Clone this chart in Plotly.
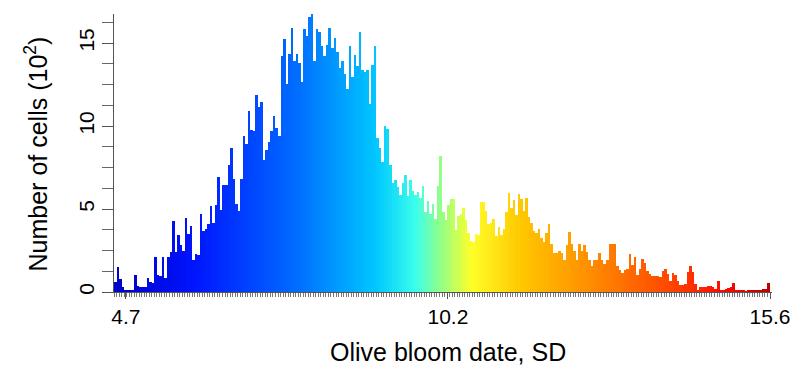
import numpy as np
import plotly.graph_objects as go

# Histogram counts (in units of 10^2 cells), read left to right
counts = [
    0.60, 1.51, 0.76, 0.28, 0.14, 0.08, 0.08, 0.08, 1.00, 0.38, 0.28, 0.32, 0.32, 0.84, 0.58, 0.54, 2.11, 1.05,
    0.94, 2.08, 0.84, 2.08, 2.41, 4.30, 2.41, 3.41, 2.81, 2.45, 4.46, 3.49, 3.95, 1.94, 2.29, 2.25, 4.72, 3.69,
    3.79, 4.11, 5.18, 4.14, 5.22,
    6.92, 4.96, 6.46, 6.43, 7.67, 8.67, 6.83, 5.31, 4.86, 6.83, 9.42, 8.93, 10.91, 9.77, 9.72, 11.84, 11.12,
    11.45, 7.97, 8.53, 9.03,
    9.72, 10.62, 9.87, 9.42, 14.23, 15.26, 12.55, 14.35, 15.90, 13.89, 14.33, 13.79, 12.63, 15.85, 15.40, 16.56,
    16.74, 13.89, 15.85, 15.64, 14.80, 14.23,
    14.89, 15.90, 14.69, 15.29, 14.45, 13.49, 13.93, 13.14, 12.24, 14.80, 12.98, 14.26, 13.59, 15.66, 13.39,
    13.23, 13.39, 11.32, 13.69, 14.80,
    9.28, 8.67, 7.83, 10.03, 9.83, 7.67, 6.57, 6.76, 6.30, 5.86, 6.57, 7.02, 5.76, 6.73, 6.06, 5.86, 6.00, 5.66,
    6.36, 4.80, 5.50, 4.72, 5.31,
    4.40, 6.36, 8.21, 4.82, 4.32, 5.22, 5.62, 5.61, 3.74, 4.56, 4.72, 5.05, 4.35, 3.55, 3.09, 2.99, 3.49, 3.43,
    5.45, 5.42, 4.86,
    4.09, 4.16, 4.40, 3.35, 3.91, 3.45, 3.81, 4.82, 5.94, 5.05, 5.56, 4.61, 5.90, 5.62, 4.86, 5.66, 4.49, 4.16,
    3.69, 3.55, 3.81, 3.25,
    3.01, 3.55, 4.11, 2.89, 2.35, 2.35, 2.45, 2.35, 1.91, 2.85, 3.61, 2.89, 2.48, 1.94, 2.89, 2.45, 2.85, 2.41,
    1.94, 1.54, 1.94,
    1.94, 2.35, 1.94, 1.68, 1.94, 2.91, 2.91, 2.91, 1.59, 1.31, 1.14, 1.35, 1.38, 2.31, 1.61, 2.08, 1.00, 1.38,
    2.01, 1.75, 1.24, 1.08,
    0.98, 0.94, 0.94, 0.91, 1.24, 1.38, 1.08, 0.68, 1.14, 1.00, 0.68, 0.44, 0.44, 0.49, 1.19, 1.59, 1.20, 0.49,
    0.14, 0.28, 0.30, 0.28, 0.38,
    0.35, 0.28, 0.21, 0.68, 0.14, 0.08, 0.18, 0.24, 0.30, 0.54, 0.10, 0.08, 0.14, 0.08, 0.04, 0.08, 0.10, 0.14,
    0.08, 0.10, 0.12, 0.18, 0.21, 0.54,
]

x_start = 4.5          # left edge of the first bin
x_end = 15.6           # right edge of the last bin
x_tick_vals = [4.7, 10.15, 15.6]
x_tick_text = ["4.7", "10.2", "15.6"]
y_tick_vals = [0, 5, 10, 15]
y_tick_text = ["0", "5", "10", "15"]
y_minor_step = 1.25
y_top = 16.75

n = len(counts)
edges = np.linspace(x_start, x_end, n + 1)
centers = (edges[:-1] + edges[1:]) / 2
width = edges[1] - edges[0]

# rainbow-like palette anchors (fraction along x, rgb)
anchors = [
    (0.00, (0, 0, 200)),
    (0.12, (0, 20, 255)),
    (0.28, (0, 110, 255)),
    (0.40, (0, 200, 255)),
    (0.46, (60, 255, 235)),
    (0.50, (150, 255, 130)),
    (0.545, (255, 255, 40)),
    (0.62, (255, 200, 0)),
    (0.72, (255, 145, 0)),
    (0.85, (255, 70, 0)),
    (0.93, (255, 10, 0)),
    (1.00, (190, 0, 0)),
]


def colour(f):
    for (f0, c0), (f1, c1) in zip(anchors[:-1], anchors[1:]):
        if f0 <= f <= f1:
            t = (f - f0) / (f1 - f0)
            r, g, b = (round(a + (bb - a) * t) for a, bb in zip(c0, c1))
            return f"rgb({r},{g},{b})"
    return "rgb(190,0,0)"


colors = [colour(i / (n - 1)) for i in range(n)]

fig = go.Figure(
    go.Bar(x=centers, y=counts, width=width, marker=dict(color=colors, line=dict(width=0)))
)

# the page body adds an 8 px offset, so the figure is 8 px smaller and margins shifted
font = dict(family="Liberation Sans, Arial, sans-serif", size=21, color="black")
title_font = dict(family="Liberation Sans, Arial, sans-serif", size=25, color="black")
fig.update_layout(
    width=790,
    height=357,
    margin=dict(l=106, r=26, t=6, b=73, autoexpand=False),
    paper_bgcolor="white",
    plot_bgcolor="white",
    bargap=0,
    showlegend=False,
    font=font,
    annotations=[
        dict(text="Olive bloom date, SD", xref="paper", yref="paper", x=0.508, y=-0.216,
             xanchor="center", yanchor="middle", showarrow=False, font=title_font),
        dict(text="Number of cells (10<sup>2</sup>)", xref="paper", yref="paper", x=-0.118, y=0.496,
             xanchor="center", yanchor="middle", textangle=-90, showarrow=False, font=title_font),
    ],
)
fig.update_xaxes(
    range=[x_start, x_start + (x_end - x_start) * 658 / 656],
    automargin=False,
    showgrid=False,
    zeroline=False,
    showline=True,
    linecolor="#555",
    linewidth=1,
    ticks="outside",
    ticklen=6,
    tickcolor="#555",
    tickvals=x_tick_vals,
    ticktext=x_tick_text,
    minor=dict(ticks="outside", ticklen=4, tickvals=list(edges), tickcolor="#777"),
)
fig.update_yaxes(
    range=[0, y_top],
    automargin=False,
    showgrid=False,
    zeroline=False,
    showline=True,
    linecolor="#555",
    linewidth=1,
    ticks="outside",
    ticklen=11,
    tickcolor="#555",
    tickvals=y_tick_vals,
    ticktext=y_tick_text,
    tickangle=-90,
    minor=dict(ticks="outside", ticklen=11, tickvals=list(np.arange(0, 16.26, y_minor_step)),
               tickcolor="#666"),
)

fig.write_html("out.html")
